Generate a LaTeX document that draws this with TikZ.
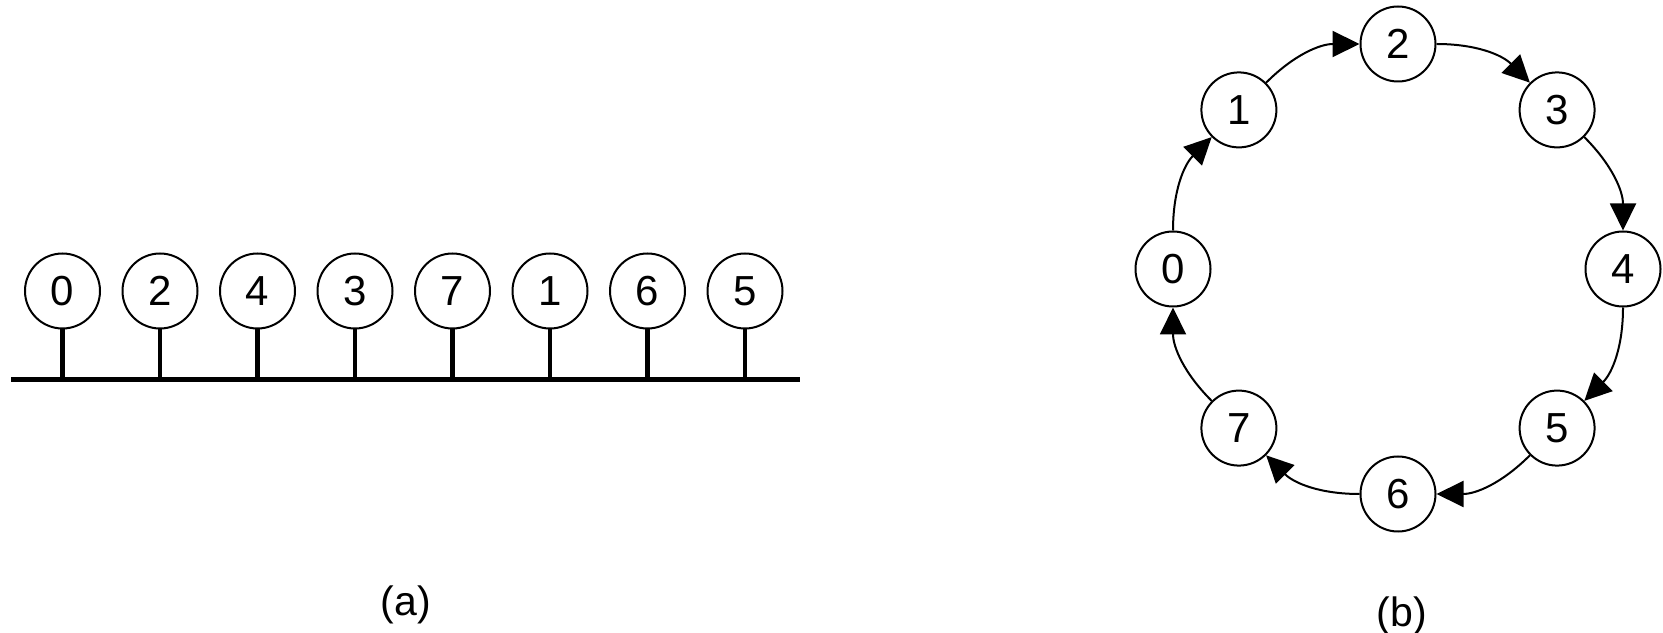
\documentclass[tikz,border=0pt]{standalone}
\usepackage{fontspec}
\setmainfont{Liberation Sans}
\usetikzlibrary{arrows.meta}
\begin{document}
\begin{tikzpicture}[x=1pt,y=1pt,
  station/.style={circle, draw, line width=2pt, minimum size=75pt, inner sep=0pt,
                  font=\fontsize{42}{42}\selectfont},
  tap/.style={line width=4.5pt},
  bus/.style={line width=5pt},
  link/.style={line width=2pt, -{Triangle[length=27pt,width=26pt]}},
  caption/.style={font=\fontsize{41}{41}\selectfont}]
\useasboundingbox (0,0) rectangle (1663,632);

% (a) stations on a shared bus
\coordinate (busL) at (11,252);
\coordinate (busR) at (800,252);
\draw[bus] (busL) -- (busR);
\foreach \lab [count=\i from 0] in {0,2,4,3,7,1,6,5} {
  \node[station] (a\lab) at ({62.5+97.5*\i},341) {\lab};
  \coordinate (t\lab) at ({62.5+97.5*\i},252);
  \draw[tap] (a\lab.south) -- (t\lab);
}
\node[caption] (capa) at (406,27) {(a)};

% (b) stations on a logical ring
\foreach \k in {0,...,7} {
  \node[station] (r\k) at ({1398+225*cos(180-45*\k)},{363+225*sin(180-45*\k)}) {\k};
}
\foreach \k [evaluate=\k as \nxt using {int(mod(\k+1,8))}] in {0,...,7} {
  \draw[link] (r\k) to[bend left=22.5] (r\nxt);
}
\node[caption] (capb) at (1402,16) {(b)};
\end{tikzpicture}
\end{document}
